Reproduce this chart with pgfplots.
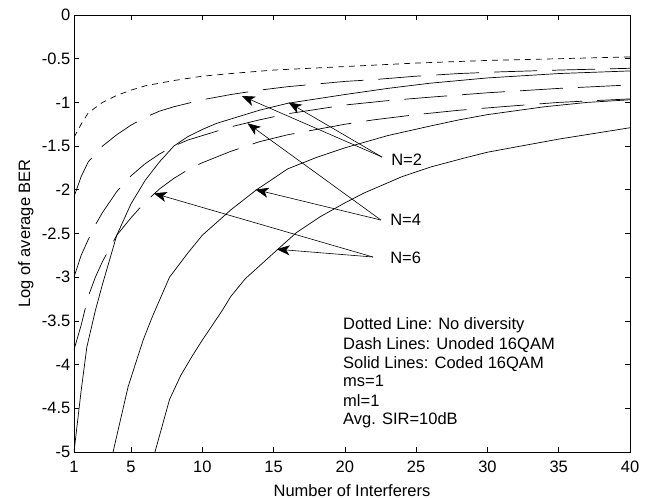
\documentclass[border=0pt]{standalone}
\usepackage{pgfplots}
\pgfplotsset{compat=1.18}
\usepackage{fontspec}
\setmainfont{Liberation Sans}
\usetikzlibrary{arrows.meta}

\begin{document}
\begin{tikzpicture}[font=\fontsize{16.5bp}{19bp}\selectfont]
\path[use as bounding box] (-74bp,-46bp) rectangle (582bp,452bp);
\begin{axis}[
  at={(0,0)}, anchor=south west,
  scale only axis, width=556bp, height=437bp,
  xmin=1, xmax=40, ymin=-5, ymax=0,
  xtick={1,5,10,15,20,25,30,35,40},
  xticklabels={1,5,10,15,20,25,30,35,40},
  ytick={-5,-4.5,-4,-3.5,-3,-2.5,-2,-1.5,-1,-0.5,0},
  yticklabels={-5,-4.5,-4,-3.5,-3,-2.5,-2,-1.5,-1,-0.5,0},
  tick align=inside, tick pos=both, major tick length=5bp,
  axis line style={line width=0.9bp},
  every tick/.style={black, line width=0.7bp},
  xticklabel style={anchor=base, yshift=-21bp, inner sep=0pt},
  yticklabel style={anchor=east, inner sep=0pt, xshift=-3.5bp},
  xlabel={Number of Interferers}, ylabel={Log of average BER},
  xlabel style={at={(axis description cs:0.5,-0.1007)}, anchor=base, inner sep=0pt},
  ylabel style={at={(axis description cs:-0.0791,0.5)}, anchor=base, inner sep=0pt},
]
% Dotted: no diversity
\addplot[black, line width=0.7bp, dash pattern=on 6bp off 5bp] coordinates {
(1,-1.40) (1.5,-1.25) (2,-1.12) (3,-1.00) (4,-0.92) (5,-0.86) (6,-0.81) (8,-0.75)
(10,-0.70) (12,-0.67) (15,-0.63) (20,-0.59) (25,-0.55) (30,-0.52) (35,-0.50) (40,-0.48)};
% Dashed: uncoded N=2
\addplot[black, line width=0.7bp, dash pattern=on 43bp off 15bp] coordinates {
(1,-2.08) (1.5,-1.85) (2,-1.68) (3,-1.50) (4,-1.37) (5,-1.26) (6,-1.17) (7,-1.10)
(8,-1.05) (9,-1.01) (10,-0.97) (12,-0.91) (14,-0.86) (16,-0.82) (18,-0.79) (20,-0.76)
(22,-0.74) (25,-0.70) (28,-0.67) (31,-0.65) (35,-0.63) (40,-0.61)};
% Dashed: uncoded N=4
\addplot[black, line width=0.7bp, dash pattern=on 43bp off 15bp] coordinates {
(1,-3.00) (1.5,-2.75) (2,-2.57) (2.5,-2.40) (3,-2.26) (4,-2.02) (5,-1.84) (6,-1.70)
(7,-1.59) (8,-1.50) (9,-1.43) (10,-1.38) (12,-1.28) (14,-1.20) (16,-1.13) (18,-1.08)
(20,-1.03) (23,-0.98) (26,-0.94) (30,-0.89) (35,-0.84) (40,-0.80)};
% Dashed: uncoded N=6
\addplot[black, line width=0.7bp, dash pattern=on 43bp off 15bp] coordinates {
(1,-3.83) (1.5,-3.55) (2,-3.22) (2.5,-3.00) (3,-2.82) (4,-2.52) (5,-2.32) (6,-2.14)
(7,-1.99) (8,-1.87) (9,-1.77) (10,-1.69) (12,-1.56) (14,-1.45) (16,-1.37) (18,-1.31)
(20,-1.25) (22,-1.20) (25,-1.14) (28,-1.09) (31,-1.05) (35,-1.00) (40,-0.96)};
% Solid: coded N=2
\addplot[black, line width=0.7bp] coordinates {
(1,-5.00) (1.5,-4.30) (1.9,-3.80) (2.5,-3.38) (3,-3.08) (3.5,-2.80) (4,-2.52) (5,-2.16)
(6,-1.89) (7,-1.68) (8,-1.50) (9,-1.39) (10,-1.31) (11,-1.24) (12,-1.19) (14,-1.09)
(16,-1.01) (18,-0.96) (20,-0.91) (23,-0.84) (26,-0.78) (30,-0.72) (35,-0.67) (40,-0.64)};
% Solid: coded N=4
\addplot[black, line width=0.7bp] coordinates {
(3.74,-5.00) (4.8,-4.25) (5.85,-3.72) (6.5,-3.45) (7.7,-3.00) (9,-2.72) (10,-2.52)
(12,-2.23) (13.8,-2.00) (16,-1.76) (18,-1.63) (20,-1.52) (23,-1.38) (26,-1.27)
(28,-1.20) (30,-1.14) (34,-1.05) (37,-1.00) (40,-0.97)};
% Solid: coded N=6
\addplot[black, line width=0.7bp] coordinates {
(6.68,-5.00) (7.7,-4.40) (8.5,-4.12) (9.3,-3.90) (10,-3.72) (11.4,-3.38) (12,-3.22)
(13,-3.02) (15.3,-2.68) (16.6,-2.49) (18.25,-2.31) (20,-2.15) (21.3,-2.04) (24,-1.85)
(26,-1.74) (28.3,-1.64) (30,-1.57) (35,-1.42) (40,-1.29)};

% Annotation arrows
\tikzset{annarrow/.style={-{Stealth[length=13bp,width=10bp,inset=3.5bp]}, line width=0.6bp, black}}
\draw[annarrow] (axis cs:22.60,-1.625) -- (axis cs:12.78,-0.927);
\draw[annarrow] (axis cs:22.60,-1.625) -- (axis cs:16.05,-1.001);
\draw[annarrow] (axis cs:22.53,-2.346) -- (axis cs:13.17,-1.239);
\draw[annarrow] (axis cs:22.53,-2.346) -- (axis cs:13.73,-1.998);
\draw[annarrow] (axis cs:21.97,-2.769) -- (axis cs:6.59,-2.040);
\draw[annarrow] (axis cs:21.97,-2.769) -- (axis cs:15.22,-2.680);

\node[anchor=west, inner sep=0pt] at (axis cs:23.24,-1.659) {N=2};
\node[anchor=west, inner sep=0pt] at (axis cs:23.17,-2.346) {N=4};
\node[anchor=west, inner sep=0pt] at (axis cs:23.17,-2.780) {N=6};

\node[anchor=base west, inner sep=0pt] at (axis cs:19.87,-3.604) {Dotted Line: No diversity};
\node[anchor=base west, inner sep=0pt] at (axis cs:19.87,-3.822) {Dash Lines: Unoded 16QAM};
\node[anchor=base west, inner sep=0pt] at (axis cs:19.87,-4.039) {Solid Lines: Coded 16QAM};
\node[anchor=base west, inner sep=0pt] at (axis cs:19.87,-4.256) {ms=1};
\node[anchor=base west, inner sep=0pt] at (axis cs:19.87,-4.474) {ml=1};
\node[anchor=base west, inner sep=0pt] at (axis cs:19.87,-4.691) {Avg. SIR=10dB};
\end{axis}
\end{tikzpicture}
\end{document}
